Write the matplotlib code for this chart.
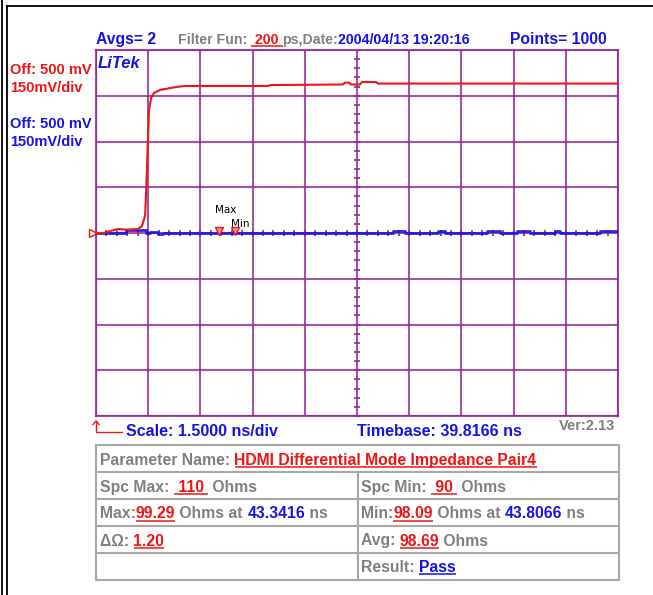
import matplotlib
matplotlib.use('Agg')
import matplotlib.pyplot as plt
from matplotlib.transforms import blended_transform_factory
import numpy as np

W, H, DPI = 653, 595, 100

# ---------------- data ----------------
timebase_ns = 39.8166
scale_ns_div = 1.5
n_xdiv = 10
mv_div = 150
offset_mv = 500
n_ydiv = 8

red_t = [39.817, 40.05, 40.22, 40.45, 40.68, 41.02, 41.14, 41.23, 41.28, 41.34,
         41.40, 41.48, 41.66, 41.94, 42.14, 42.37, 44.76, 44.82, 46.91, 46.97,
         47.09, 47.14, 47.40, 47.46, 47.86, 47.92, 54.817]
red_v = [500, 500, 506.6, 513, 511, 513, 523, 559, 707, 903,
         943, 959, 969, 975, 979, 982, 982, 985, 987, 993,
         993, 987, 987, 995, 995, 990, 990]

blue_t = [39.817, 40.679, 41.254, 41.368, 41.598, 41.742, 48.351, 48.696, 49.644,
          49.845, 51.052, 51.426, 51.914, 52.288, 53.006, 53.150, 54.299, 54.817]
blue_v = [501.6, 508.2, 498.4, 503.3, 496.7, 500, 506.6, 500, 506.6,
          500, 506.6, 500, 506.6, 500, 506.6, 500, 506.6, 506.6]

max_t, max_ohm = 43.3416, "99.29"
min_t, min_ohm = 43.8066, "98.09"
marker_level = 506.6

avgs = "2"
filter_ps = "200"
date_str = "2004/04/13 19:20:16"
points = "1000"
param_name = "HDMI Differential Mode Impedance Pair4"
spc_max, spc_min = "110", "90"
delta_ohm, avg_ohm = "1.20", "98.69"
result = "Pass"
version = "Ver:2.13"

# ---------------- style ----------------
PURPLE = '#8e2a8e'
RED = '#f01414'
BLUE = '#1414e6'
GRAY = '#808080'
FONT = 'Liberation Sans'

fig = plt.figure(figsize=(W / DPI, H / DPI), dpi=DPI)
fig.patch.set_facecolor('white')

# main scope axes
ax = fig.add_axes([96 / W, (H - 416) / H, 522 / W, 366 / H])
x0 = timebase_ns
x1 = timebase_ns + n_xdiv * scale_ns_div
y0 = offset_mv - n_ydiv / 2 * mv_div
y1 = offset_mv + n_ydiv / 2 * mv_div
ax.set_xlim(x0, x1)
ax.set_ylim(y0, y1)
ax.set_xticks([x0 + i * scale_ns_div for i in range(n_xdiv + 1)])
ax.set_yticks([y0 + j * mv_div for j in range(n_ydiv + 1)])
ax.tick_params(length=0, labelbottom=False, labelleft=False)
ax.grid(True, color=PURPLE, lw=1.5, alpha=0.8)
ax.set_axisbelow(True)
for s in ax.spines.values():
    s.set_color(PURPLE)
    s.set_linewidth(1.5)
    s.set_alpha(0.85)

xc = (x0 + x1) / 2
# center axis minor ticks
tx = np.arange(x0, x1 + 1e-6, scale_ns_div / 5)
ty = np.arange(y0, y1 + 1e-6, mv_div / 5)
ax.plot(tx, np.full_like(tx, offset_mv), ls='none', marker='|', ms=5,
        mew=1.2, color=PURPLE, zorder=3)
ax.plot(np.full_like(ty, xc), ty, ls='none', marker='_', ms=5,
        mew=1.2, color=PURPLE, zorder=3)
# blue trace
ax.step(blue_t, blue_v, where='post', color=BLUE, lw=2.0, alpha=0.9, zorder=4)
# red trace
ax.plot(red_t, red_v, color=RED, lw=1.5, zorder=5)
# max / min markers
ax.plot([max_t, min_t], [marker_level, marker_level], ls='none', marker='v',
        ms=6, mfc='#ff9090', mec=RED, mew=1.0, zorder=6)
ax.annotate('Max', (max_t, marker_level), xytext=(-4, 21), textcoords='offset pixels',
            fontsize=7.5, family='DejaVu Sans', color='black', ha='left', va='center')
ax.annotate('Min', (min_t, marker_level), xytext=(-4, 7), textcoords='offset pixels',
            fontsize=7.5, family='DejaVu Sans', color='black', ha='left', va='center')
# ground reference marker
btr = blended_transform_factory(ax.transAxes, ax.transData)
ax.plot([-0.005], [offset_mv], transform=btr, marker='>', ms=6, mfc='none',
        mec=RED, mew=1.0, clip_on=False, zorder=6)

# overlay axes in pixel coordinates
ov = fig.add_axes([0, 0, 1, 1], zorder=10)
ov.set_xlim(0, W)
ov.set_ylim(H, 0)
ov.axis('off')
ov.patch.set_alpha(0)

renderer = fig.canvas.get_renderer()


def twidth(s, **kw):
    t1 = ov.text(0, 0, '|' + s + '|', **kw)
    w1 = t1.get_window_extent(renderer).width
    t1.remove()
    t2 = ov.text(0, 0, '||', **kw)
    w2 = t2.get_window_extent(renderer).width
    t2.remove()
    return w1 - w2


def chain(x, y, pieces, size, weight='bold', style='normal'):
    kw = dict(fontsize=size, fontweight=weight, family=FONT, fontstyle=style)
    for s, c, ul in pieces:
        ov.text(x, y, s, color=c, ha='left', va='baseline', **kw)
        w = twidth(s, **kw)
        if ul:
            ov.plot([x, x + w], [y + 2, y + 2], color=c, lw=1.1,
                    solid_capstyle='butt')
        x += w
    return x


# borders
ov.plot([1.5, 1.5], [0, H], color='black', lw=1.3)
ov.plot([6.5, 6.5], [5.5, H], color='black', lw=1.3)
ov.plot([6.5, W], [5.5, 5.5], color='black', lw=1.3)

# header
chain(96, 44, [("Avgs= " + avgs, BLUE, False)], 11.3)
chain(178, 44, [("Filter Fun: ", GRAY, False), (" " + filter_ps + " ", RED, True),
                ("ps,Date:", GRAY, False), (date_str, BLUE, False)], 10.2)
chain(510, 44, [("Points= " + points, BLUE, False)], 11.3)

# left labels
chain(10, 74, [("Off: %d mV" % offset_mv, RED, False)], 10.5)
chain(10, 92.5, [("%dmV/div" % mv_div, RED, False)], 10.5)
chain(10, 128, [("Off: %d mV" % offset_mv, BLUE, False)], 10.5)
chain(10, 146.5, [("%dmV/div" % mv_div, BLUE, False)], 10.5)

# logo
chain(98, 68, [("LiTek", BLUE, False)], 12, style='italic')

# bottom line
ov.plot([122, 96, 96], [432, 432, 421], color=RED, lw=1.0)
ov.plot([93, 96, 99], [424.5, 421, 424.5], color=RED, lw=1.0)
chain(126, 436, [("Scale: %.4f ns/div" % scale_ns_div, BLUE, False)], 11.5)
chain(357, 436, [("Timebase: %.4f ns" % timebase_ns, BLUE, False)], 11.5)
chain(559, 430.5, [(version, GRAY, False)], 10.5)

# table
TG = '#a8a8a8'
tl, tr, tt, tb = 96, 619, 445, 580
rows = [445, 472, 499, 526, 553, 580]
colx = 358
ov.plot([tl, tr, tr, tl, tl], [tt, tt, tb, tb, tt], color=TG, lw=1.5)
for ry in rows[1:-1]:
    ov.plot([tl, tr], [ry, ry], color=TG, lw=1.5)
ov.plot([colx, colx], [rows[1], tb], color=TG, lw=1.5)

TS = 11.3
chain(100, 465, [("Parameter Name: ", GRAY, False), (param_name, RED, True)], TS)
chain(100, 492, [("Spc Max: ", GRAY, False), (" " + spc_max + " ", RED, True),
                 (" Ohms", GRAY, False)], TS)
chain(361, 492, [("Spc Min: ", GRAY, False), (" " + spc_min + " ", RED, True),
                 (" Ohms", GRAY, False)], TS)
chain(100, 518.5, [("Max:", GRAY, False), (max_ohm, RED, True),
                   (" Ohms at ", GRAY, False), ("%.4f" % max_t, BLUE, False),
                   (" ns", GRAY, False)], TS)
chain(361, 518.5, [("Min:", GRAY, False), (min_ohm, RED, True),
                   (" Ohms at ", GRAY, False), ("%.4f" % min_t, BLUE, False),
                   (" ns", GRAY, False)], TS)
chain(100, 545.5, [("\u0394\u03a9: ", GRAY, False), (delta_ohm, RED, True)], TS)
chain(361, 545.5, [("Avg: ", GRAY, False), (avg_ohm, RED, True),
                   (" Ohms", GRAY, False)], TS)
chain(361, 572, [("Result: ", GRAY, False), (result, BLUE, True)], TS)

fig.savefig('out.png', dpi=DPI)
